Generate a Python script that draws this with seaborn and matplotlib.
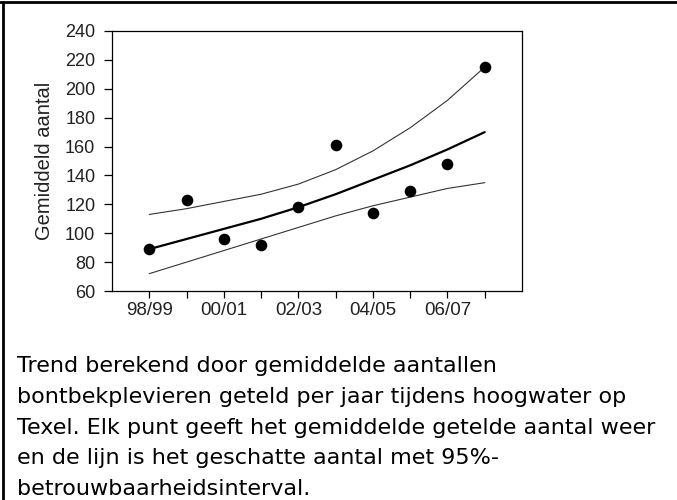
import numpy as np
import pandas as pd
import seaborn as sns
import matplotlib.pyplot as plt
from matplotlib.lines import Line2D

# Bontbekplevier counts on Texel, mean per season with fitted trend + 95% CI
seasons = ["98/99", "99/00", "00/01", "01/02", "02/03",
           "03/04", "04/05", "05/06", "06/07", "07/08"]
counts = [89, 123, 96, 92, 118, 161, 114, 129, 148, 215]
trend = [89, 96, 103, 110, 118, 127, 137, 147, 158, 170]
upper = [113, 117, 122, 127, 134, 144, 157, 173, 192, 215]
lower = [72, 80, 88, 96, 104, 112, 119, 125, 131, 135]
y_ticks = [60, 80, 100, 120, 140, 160, 180, 200, 220, 240]
x_labels = [s if i % 2 == 0 else "" for i, s in enumerate(seasons)]

caption = ["Trend berekend door gemiddelde aantallen",
           "bontbekplevieren geteld per jaar tijdens hoogwater op",
           "Texel. Elk punt geeft het gemiddelde getelde aantal weer",
           "en de lijn is het geschatte aantal met 95%-",
           "betrouwbaarheidsinterval."]

df = pd.DataFrame({"pos": np.arange(len(seasons)), "seizoen": seasons,
                   "aantal": counts, "trend": trend,
                   "boven": upper, "onder": lower})

sns.set_style("ticks")
plt.rcParams["font.family"] = ["Liberation Sans", "DejaVu Sans"]

fig = plt.figure(figsize=(6.77, 5.0), dpi=100)
ax = fig.add_axes([112 / 677, 1 - 291 / 500, 410 / 677, 260 / 500])

sns.lineplot(data=df, x="pos", y="boven", color="#333333", linewidth=0.8, ax=ax)
sns.lineplot(data=df, x="pos", y="onder", color="#333333", linewidth=0.8, ax=ax)
sns.lineplot(data=df, x="pos", y="trend", color="black", linewidth=1.6, ax=ax)
sns.scatterplot(data=df, x="pos", y="aantal", color="black", s=70,
                edgecolor="black", linewidth=0, zorder=5, ax=ax)

ax.set_xlim(-1, 10)
ax.set_ylim(60, 240)
ax.set_yticks(y_ticks)
ax.set_xticks(df["pos"])
ax.set_xticklabels(x_labels)
ax.set_xlabel("")
ax.set_ylabel("Gemiddeld aantal", fontsize=14.5, color="#222222", labelpad=8)
for side in ["top", "right", "left", "bottom"]:
    ax.spines[side].set_visible(True)
    ax.spines[side].set_color("black")
    ax.spines[side].set_linewidth(0.9)
ax.tick_params(axis="y", length=6, width=0.9, pad=6, labelsize=13,
               colors="black", labelcolor="#222222")
ax.tick_params(axis="x", length=5, width=0.9, pad=3, labelsize=13.5,
               colors="black", labelcolor="#222222")

# caption below the chart
for k, line in enumerate(caption):
    fig.text(17 / 677, 1 - (372 + 30.8 * k) / 500, line, fontsize=16,
             family="DejaVu Sans", color="black", va="baseline", ha="left")

# page frame: top and left border
fig.add_artist(Line2D([0, 1], [1 - 2 / 500, 1 - 2 / 500], color="black",
                      linewidth=2, transform=fig.transFigure))
fig.add_artist(Line2D([3 / 677, 3 / 677], [0, 1 - 2 / 500], color="black",
                      linewidth=2, transform=fig.transFigure))

fig.savefig("out.png", dpi=100, facecolor="white")
